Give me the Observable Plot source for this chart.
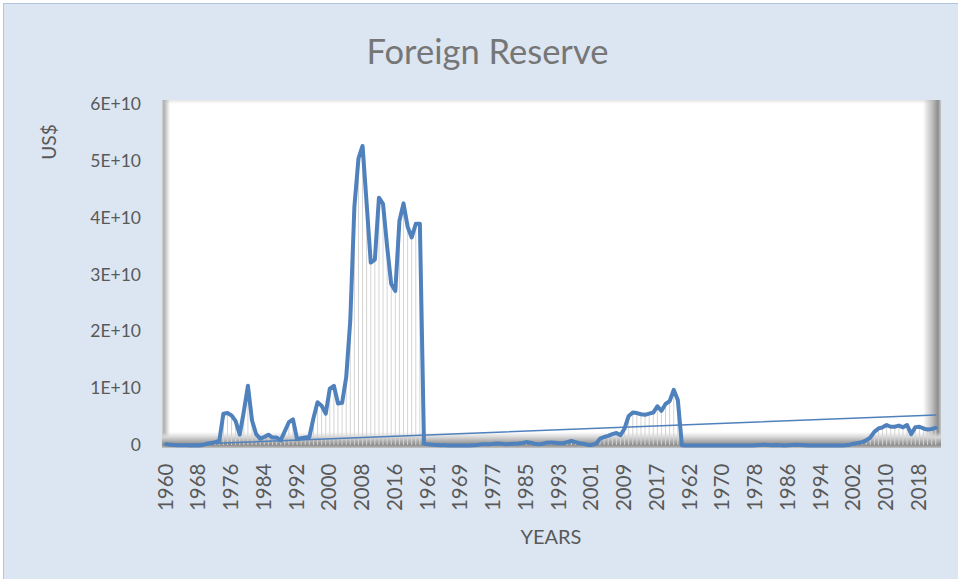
<!DOCTYPE html>
<html>
<head>
<meta charset="utf-8">
<script src="https://cdn.jsdelivr.net/npm/d3@7"></script>
<script src="https://cdn.jsdelivr.net/npm/@observablehq/plot@0.6"></script>
<style>
html,body{margin:0;padding:0;background:#fff;width:958px;height:579px;overflow:hidden;position:relative;}
#bg{position:absolute;left:3px;top:3px;width:975px;height:600px;background:#dce6f2;border-left:1px solid #b3c6e0;border-top:1px solid #b3c6e0;}
#plotbox{position:absolute;left:162px;top:100px;width:779px;height:348px;
  background:
    linear-gradient(to top, #c4c4c4 0px, #8a8a8a 3px, #a5a5a5 6px, #d8d8d8 11px, rgba(255,255,255,0) 16px),
    linear-gradient(to left, #c8c8c8 0px, #8c8c8c 3px, #b8b8b8 8px, rgba(255,255,255,0) 18px),
    linear-gradient(to right, #d0d0d0 0px, #b0b0b0 2px, rgba(255,255,255,0) 8px),
    linear-gradient(to bottom, #e6e6e6 0px, rgba(255,255,255,0) 4px),
    #fff;}
#chart{position:absolute;left:0;top:0;}
.t{position:absolute;font-family:Lato,"Open Sans",sans-serif;color:#595959;white-space:nowrap;}
#title{left:0;width:975px;text-align:center;top:31px;font-size:34.5px;color:#767676;line-height:40px;}
#ylab{left:48px;top:142px;font-size:19px;transform:translate(-50%,-50%) rotate(-90deg);}
#xlab{left:551px;top:536px;font-size:20px;transform:translate(-50%,-50%);}
</style>
</head>
<body>
<div id="bg"></div>
<div id="plotbox"></div>
<div id="chart"></div>
<div class="t" id="title">Foreign Reserve</div>
<div class="t" id="ylab">US$</div>
<div class="t" id="xlab">YEARS</div>
<script>
// Category years for each of the three concatenated series
const years = d3.range(1960, 2023);

// Values in billions of US$
const seriesA = [0.2,0.15,0.1,0.05,0.05,0.03,0.0,0.0,0.0,0.1,
  0.3,0.45,0.6,0.8,5.6,5.7,5.3,4.3,1.9,6.0,
  10.5,4.4,2.0,1.2,1.5,1.9,1.4,1.4,0.9,2.5,
  4.1,4.6,1.1,1.3,1.4,1.5,4.8,7.6,7.0,5.6,
  10.0,10.5,7.4,7.5,12.0,22.0,42.0,50.5,52.7,42.5,
  32.2,32.7,43.6,42.5,35.0,28.4,27.2,39.5,42.6,38.5,
  36.6,39.0,39.0];
const seriesB = [0.3,0.2,0.15,0.1,0.05,0.05,0.0,0.0,0.0,0.0,
  0.0,0.0,0.05,0.1,0.2,0.2,0.2,0.3,0.35,0.3,
  0.2,0.25,0.3,0.35,0.45,0.6,0.5,0.3,0.2,0.3,
  0.5,0.55,0.5,0.4,0.4,0.6,0.8,0.6,0.4,0.3,
  0.1,0.1,0.3,1.2,1.5,1.7,2.0,2.2,1.8,3.0,
  5.2,5.8,5.7,5.5,5.4,5.6,5.8,6.9,6.1,7.3,
  7.8,9.8,8.0];
const seriesC = [0.05,0.0,0.0,0.0,0.0,0.0,0.0,0.0,0.0,0.0,
  0.0,0.0,0.0,0.0,0.0,0.0,0.0,0.0,0.05,0.1,
  0.15,0.1,0.05,0.1,0.05,0.0,0.05,0.1,0.15,0.1,
  0.05,0.0,0.0,0.0,0.0,0.0,0.0,0.0,0.0,0.0,
  0.05,0.15,0.3,0.45,0.6,0.9,1.4,2.4,3.0,3.2,
  3.6,3.3,3.3,3.5,3.2,3.6,2.0,3.2,3.3,3.0,
  2.8,2.9,3.1];
const unit = 1e9;
const yTicks = [0, 1e10, 2e10, 3e10, 4e10, 5e10, 6e10];
const tickEvery = 8;

const categories = [...years, ...years, ...years];
const values = [...seriesA, ...seriesB, ...seriesC].map(v => v * unit);
const data = values.map((v, i) => ({i, year: categories[i], v}));

// Linear trendline with intercept set to 0 (x = 1..n as in a category chart)
const sxy = d3.sum(data, d => (d.i + 1) * d.v);
const sxx = d3.sum(data, d => (d.i + 1) ** 2);
const slope = sxy / sxx;
const trend = [data[0], data[data.length - 1]].map(d => ({i: d.i, v: slope * (d.i + 1)}));
const xTicks = d3.range(0, categories.length, tickEvery);

const chart = Plot.plot({
  width: 958, height: 579,
  marginLeft: 163.5, marginRight: 20.7, marginTop: 104, marginBottom: 134,
  style: {background: "transparent", fontFamily: "Lato, 'Open Sans', sans-serif", overflow: "visible"},
  x: {type: "linear", domain: [-0.5, categories.length - 0.5]},
  y: {domain: [0, 6e10]},
  marks: [
    Plot.ruleX(data, {x: "i", y1: 0, y2: "v", stroke: "#d4d4d4", strokeWidth: 1}),
    Plot.line(trend, {x: "i", y: "v", stroke: "#4f81bd", strokeWidth: 1.5}),
    Plot.line(data, {x: "i", y: "v", stroke: "#4f81bd", strokeWidth: 4, strokeLinejoin: "round", strokeLinecap: "round"}),
    Plot.axisY({ticks: yTicks, tickFormat: d => d === 0 ? "0" : `${d / 1e10}E+10`, tickSize: 0, tickPadding: 23, fontSize: 17.5, fill: "#595959", label: null}),
    Plot.axisX({ticks: xTicks, tickFormat: i => String(categories[i]), tickRotate: -90, tickSize: 0, tickPadding: 18, fontSize: 20.5, fill: "#595959", label: null})
  ]
});
document.getElementById("chart").appendChild(chart);
</script>
</body>
</html>
